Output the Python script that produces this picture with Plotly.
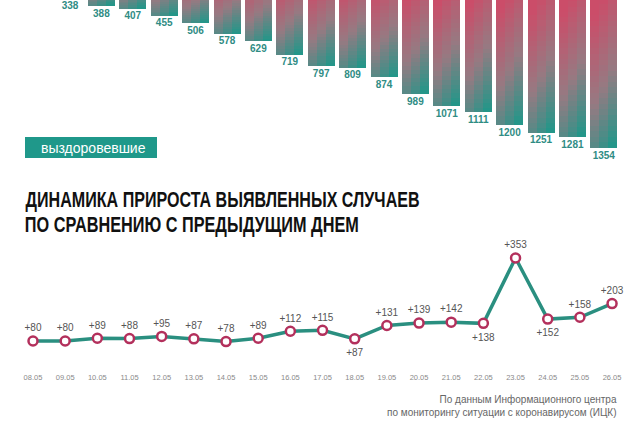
import json
import plotly.graph_objects as go

W, H = 640, 425

# ---------------- data ----------------
bar_dates = ["09.05", "10.05", "11.05", "12.05", "13.05", "14.05", "15.05", "16.05", "17.05",
             "18.05", "19.05", "20.05", "21.05", "22.05", "23.05", "24.05", "25.05", "26.05"]
recovered = [338, 388, 407, 455, 506, 578, 629, 719, 797, 809, 874, 989, 1071, 1111, 1200, 1251, 1281, 1354]

line_dates = ["08.05", "09.05", "10.05", "11.05", "12.05", "13.05", "14.05", "15.05", "16.05", "17.05",
              "18.05", "19.05", "20.05", "21.05", "22.05", "23.05", "24.05", "25.05", "26.05"]
growth = [80, 80, 89, 88, 95, 87, 78, 89, 112, 115, 87, 131, 139, 142, 138, 353, 152, 158, 203]
labels_below = {"18.05", "22.05", "24.05"}

title_lines = ["ДИНАМИКА ПРИРОСТА ВЫЯВЛЕННЫХ СЛУЧАЕВ", "ПО СРАВНЕНИЮ С ПРЕДЫДУЩИМ ДНЕМ"]
legend_text = "выздоровевшие"
source_text = "По данным Информационного центра<br>по мониторингу ситуации с коронавирусом (ИЦК)"

# ---------------- helpers ----------------
def py(p):
    return 1 - p / H

def px(p):
    return p / W

def hex2rgb(h):
    h = h.lstrip("#")
    return tuple(int(h[i:i + 2], 16) for i in (0, 2, 4))

STOPS = [(0.0, hex2rgb("#cb4d69")), (0.5, hex2rgb("#967a82")), (1.0, hex2rgb("#139a8a"))]

def grad(t):
    t = max(0.0, min(1.0, t))
    for (t0, c0), (t1, c1) in zip(STOPS[:-1], STOPS[1:]):
        if t <= t1:
            f = (t - t0) / (t1 - t0)
            c = [round(a + (b - a) * f) for a, b in zip(c0, c1)]
            return "rgb(%d,%d,%d)" % tuple(c)
    return "rgb(%d,%d,%d)" % STOPS[-1][1]

# axis scales (pixels per unit)
k_bar = (148 - 6) / (1354 - 388)
v_top = 388 - 6 / k_bar
bar_bottom_px = 160
k_line = (341 - 258) / (353 - 80)
zero_px = 341 + 80 * k_line
l_top, l_bot = 240, 371

fig = go.Figure()

# ---------------- gradient bars (stacked slices) ----------------
NSEG, NCOL = 36, 3
BW = 0.86
for i in range(NSEG):
    fv = (i + 0.5) / NSEG
    for c in range(NCOL):
        fh = (c + 0.5) / NCOL
        t = 0.85 * (fv - 0.25) / 0.75 + 0.3 * (fh - 0.5)
        fig.add_trace(go.Bar(
            x=bar_dates,
            y=[v / NSEG for v in recovered],
            base=[v * i / NSEG for v in recovered],
            width=BW / NCOL + 0.004,
            offset=-BW / 2 + c * BW / NCOL,
            marker=dict(color=grad(t), line=dict(width=0)),
            xaxis="x", yaxis="y", showlegend=False, hoverinfo="skip",
        ))

# value labels, 8 px below each bar end
label_gap = 8 / k_bar
fig.add_trace(go.Scatter(
    x=bar_dates, y=[v + label_gap for v in recovered], mode="text",
    text=[str(v) for v in recovered], textposition="middle center",
    textfont=dict(family="Liberation Sans, Arial, sans-serif", size=10, color="#2f8c84", weight=700),
    cliponaxis=False, xaxis="x", yaxis="y", showlegend=False, hoverinfo="skip",
))

# ---------------- line chart ----------------
fig.add_trace(go.Scatter(
    x=line_dates, y=growth, mode="lines+markers",
    line=dict(color="#2a8f80", width=3.5),
    marker=dict(size=9, color="white", line=dict(color="#b3305c", width=2.5)),
    cliponaxis=False, xaxis="x2", yaxis="y2", showlegend=False, hoverinfo="skip",
))
fig.add_trace(go.Scatter(
    x=line_dates, y=growth, mode="markers+text",
    marker=dict(size=[14 if d in labels_below else 10 for d in line_dates],
                color="rgba(0,0,0,0)", line=dict(width=0, color="rgba(0,0,0,0)")),
    text=["+%d" % v for v in growth],
    textposition=["bottom center" if d in labels_below else "top center" for d in line_dates],
    textfont=dict(family="Liberation Sans, Arial, sans-serif", size=10, color="#555555"),
    cliponaxis=False, xaxis="x2", yaxis="y2", showlegend=False, hoverinfo="skip",
))

# ---------------- axes ----------------
fig.update_layout(
    width=W, height=H, margin=dict(l=0, r=0, t=0, b=0),
    paper_bgcolor="white", plot_bgcolor="rgba(0,0,0,0)",
    barmode="overlay", bargap=0,
    xaxis=dict(domain=[0, 1], range=[-70 / 31.4, -70 / 31.4 + W / 31.4], type="category",
               visible=False, anchor="y"),
    yaxis=dict(domain=[py(bar_bottom_px), 1],
               range=[v_top + bar_bottom_px / k_bar, v_top], visible=False, anchor="x"),
    xaxis2=dict(domain=[0, 1], range=[-33 / 32.17, -33 / 32.17 + W / 32.17], type="category",
                showgrid=False, zeroline=False, showline=False, ticks="",
                tickfont=dict(family="Liberation Sans, Arial, sans-serif", size=7.5, color="#8a8a8a"),
                anchor="y2"),
    yaxis2=dict(domain=[py(l_bot), py(l_top)],
                range=[-(l_bot - zero_px) / k_line, (zero_px - l_top) / k_line],
                visible=False, anchor="x2"),
)

# ---------------- legend box ----------------
fig.add_shape(type="rect", xref="paper", yref="paper",
              x0=px(25), x1=px(157), y0=py(158), y1=py(137),
              fillcolor="#1f988a", line=dict(width=0))
fig.add_annotation(xref="paper", yref="paper", x=px(93), y=py(147.5), text=legend_text,
                   showarrow=False, xanchor="center", yanchor="middle",
                   font=dict(family="Liberation Sans, Arial, sans-serif", size=14, color="white"))

# ---------------- titles (condensed via SVG textLength) ----------------
title_spans = [(25, 419, 199), (25, 359, 224)]   # left px, right px, centre y px
for txt, (x0, x1, yc) in zip(title_lines, title_spans):
    fig.add_annotation(xref="paper", yref="paper", x=px((x0 + x1) / 2), y=py(yc), text=txt,
                       showarrow=False, xanchor="center", yanchor="middle",
                       font=dict(family="Liberation Sans, Arial, sans-serif",
                                 size=22, color="#111111", weight=700))

fig.add_annotation(xref="paper", yref="paper", x=px(619), y=py(406), text=source_text,
                   showarrow=False, xanchor="right", yanchor="middle", align="right",
                   font=dict(family="Liberation Sans, Arial, sans-serif", size=10, color="#666666"))

lengths = {txt: x1 - x0 for txt, (x0, x1, _) in zip(title_lines, title_spans)}
post = """
document.body.style.margin = '0';
document.body.style.overflow = 'hidden';
var L = %s;
document.querySelectorAll('text.annotation-text').forEach(function(t){
  var s = t.textContent;
  if (L[s]) {
    t.setAttribute('textLength', L[s]);
    t.setAttribute('lengthAdjust', 'spacingAndGlyphs');
  }
});
""" % json.dumps(lengths, ensure_ascii=False)

fig.write_html("out.html", post_script=post, config={"displayModeBar": False})
